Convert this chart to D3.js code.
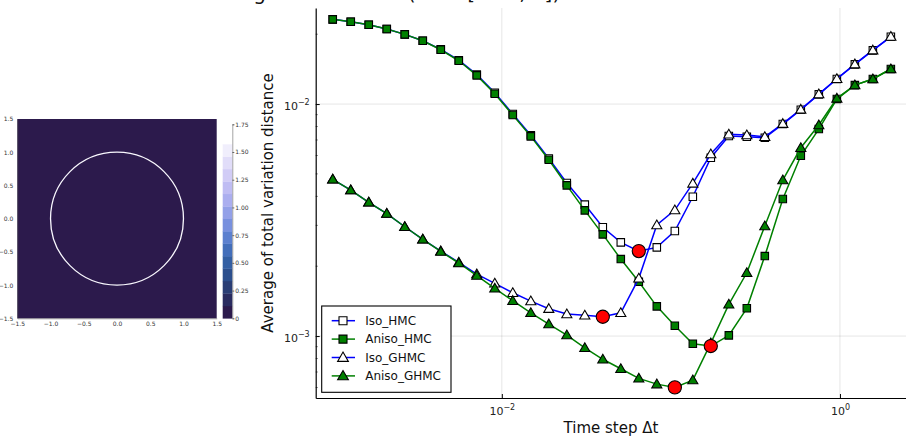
<!DOCTYPE html>
<html>
<head>
<meta charset="utf-8">
<script src="https://cdn.jsdelivr.net/npm/d3@7"></script>
<style>
  body { margin: 0; background: #fff; }
  svg { display: block; font-family: "DejaVu Sans", sans-serif; }
</style>
</head>
<body>
<svg id="chart" width="906" height="437"></svg>
<script>
// time steps (log spaced)
const dt = [0.001, 0.001278, 0.001633, 0.002087, 0.002667, 0.003408, 0.004355, 0.005565,
  0.007111, 0.009086, 0.01161, 0.01484, 0.01896, 0.02423, 0.03096, 0.03956,
  0.05055, 0.06460, 0.08254, 0.1055, 0.1348, 0.1722, 0.2201, 0.2812,
  0.3593, 0.4592, 0.5867, 0.7497, 0.9585, 1.2249, 1.5651, 2.0];

const isoHMC = [0.02318, 0.02263, 0.02197, 0.02105, 0.01997, 0.01874, 0.01720, 0.01545,
  0.01340, 0.01118, 0.009060, 0.007340, 0.005830, 0.004565, 0.003687, 0.002944,
  0.002535, 0.002324, 0.002411, 0.002835, 0.003986, 0.005868, 0.007279, 0.007228,
  0.007156, 0.008200, 0.009450, 0.01101, 0.01282, 0.01483, 0.01704, 0.01950];

const anisoHMC = [0.02318, 0.02263, 0.02197, 0.02105, 0.01997, 0.01874, 0.01714, 0.01537,
  0.01329, 0.01108, 0.008965, 0.007257, 0.005752, 0.004462, 0.003481, 0.002744,
  0.002147, 0.001714, 0.001343, 0.001108, 0.0009264, 0.0009055, 0.001007, 0.001317,
  0.002212, 0.003896, 0.005986, 0.007803, 0.01051, 0.01207, 0.01282, 0.01416];

const isoGHMC = [0.004736, 0.004258, 0.003770, 0.003373, 0.002959, 0.002611, 0.002324, 0.002078,
  0.001850, 0.001688, 0.001537, 0.001415, 0.001312, 0.001244, 0.001229, 0.001211,
  0.001260, 0.001773, 0.003010, 0.003491, 0.004551, 0.006088, 0.007403, 0.007352,
  0.007228, 0.008230, 0.009480, 0.01104, 0.01285, 0.01486, 0.01707, 0.01953];

const anisoGHMC = [0.004736, 0.004258, 0.003770, 0.003373, 0.002959, 0.002611, 0.002315, 0.002065,
  0.001823, 0.001606, 0.001420, 0.001260, 0.001126, 0.001010, 0.0008904, 0.0007943,
  0.0007228, 0.0006572, 0.0006207, 0.0006008, 0.0006461, 0.0009328, 0.001370, 0.001874,
  0.002979, 0.004704, 0.006480, 0.008120, 0.01058, 0.01207, 0.01282, 0.01416];

const seriesNames = ["Iso_HMC", "Aniso_HMC", "Iso_GHMC", "Aniso_GHMC"];
const xTicks = [0.01, 1];
const yTicks = [0.001, 0.01];

// left panel: target density on a ring of radius 1
const ringRadius = 1;
const gridTicks = [-1.5, -1.0, -0.5, 0.0, 0.5, 1.0, 1.5];
const cbarLevels = [0, 0.112, 0.225, 0.337, 0.449, 0.561, 0.674, 0.786, 0.898,
  1.010, 1.123, 1.235, 1.347, 1.459, 1.572, 1.684];
const cbarTicks = [0, 0.25, 0.5, 0.75, 1.0, 1.25, 1.5, 1.75];

const svg = d3.select("#chart");

// devon-like colour map
const devon = d3.interpolateRgbBasis(["#2c1a4c", "#29366a", "#2a5290", "#3868b2",
  "#6284d6", "#8f9de8", "#b3b2f1", "#d0caf6", "#e8e5fa", "#ffffff"]);

// ---- heatmap ----
const hx = d3.scaleLinear().domain([-1.5, 1.5]).range([17.3, 216.7]);
const hy = d3.scaleLinear().domain([-1.5, 1.5]).range([318.3, 119]);
const left = svg.append("g");

left.append("rect")
  .attr("x", hx(-1.5)).attr("y", hy(1.5))
  .attr("width", hx(1.5) - hx(-1.5)).attr("height", hy(-1.5) - hy(1.5))
  .attr("fill", devon(0));
left.append("circle")
  .attr("cx", hx(0)).attr("cy", hy(0))
  .attr("r", hx(ringRadius) - hx(0))
  .attr("fill", "none").attr("stroke", devon(0.97)).attr("stroke-width", 1.3);

const fmt1 = d => d3.format(".1f")(d).replace("-", "\u2212");
left.append("g").attr("transform", `translate(0,${hy(-1.5)})`)
  .call(d3.axisBottom(hx).tickValues(gridTicks).tickFormat(fmt1).tickSize(0).tickPadding(3))
  .call(g => g.select(".domain").attr("stroke", "#444").attr("stroke-width", 0.5))
  .call(g => g.selectAll("text").attr("font-size", 6).attr("fill", "#333").attr("font-family", "DejaVu Sans"));
left.append("g").attr("transform", `translate(${hx(-1.5)},0)`)
  .call(d3.axisLeft(hy).tickValues(gridTicks).tickFormat(fmt1).tickSize(0).tickPadding(4))
  .call(g => g.select(".domain").attr("stroke", "#444").attr("stroke-width", 0.5))
  .call(g => g.selectAll("text").attr("font-size", 6).attr("fill", "#333").attr("font-family", "DejaVu Sans"));

// colour bar
const cy = d3.scaleLinear().domain([0, 1.75]).range([318.3, 124.3]);
const bands = d3.pairs(cbarLevels);
left.append("g").selectAll("rect")
  .data(bands)
  .join("rect")
  .attr("x", 222.7).attr("width", 9.6)
  .attr("y", d => cy(d[1]))
  .attr("height", d => cy(d[0]) - cy(d[1]) + 0.3)
  .attr("fill", (d, i) => devon(i / (bands.length - 1)));
left.append("g").attr("transform", "translate(232.3,0)")
  .call(d3.axisRight(cy).tickValues(cbarTicks)
    .tickFormat(d => d === 0 ? "0" : d3.format(".2f")(d)).tickSize(2).tickPadding(1))
  .call(g => g.select(".domain").attr("stroke", "#666").attr("stroke-width", 0.6))
  .call(g => g.selectAll(".tick line").attr("stroke", "#666"))
  .call(g => g.selectAll("text").attr("font-size", 6).attr("fill", "#333").attr("font-family", "DejaVu Sans"));

// ---- main plot ----
const x = d3.scaleLog().domain([7.929e-4, 2.458]).range([315.7, 906]);
const y = d3.scaleLog().domain([5.408e-4, 0.025942]).range([398, 8]);

const plot = svg.append("g");

// grid
plot.append("g").selectAll("line")
  .data(xTicks).join("line")
  .attr("x1", d => x(d)).attr("x2", d => x(d))
  .attr("y1", y.range()[1]).attr("y2", y.range()[0])
  .attr("stroke", "#000").attr("stroke-opacity", 0.1).attr("stroke-width", 1);
plot.append("g").selectAll("line")
  .data(yTicks).join("line")
  .attr("y1", d => y(d)).attr("y2", d => y(d))
  .attr("x1", x.range()[0]).attr("x2", x.range()[1])
  .attr("stroke", "#000").attr("stroke-opacity", 0.1).attr("stroke-width", 1);

// minor ticks on the y axis
const yMinor = y.ticks().filter(t => !yTicks.includes(t));
plot.append("g").selectAll("line").data(yMinor).join("line")
  .attr("y1", d => y(d)).attr("y2", d => y(d))
  .attr("x1", 315.7).attr("x2", 317.7).attr("stroke", "#000").attr("stroke-width", 0.6);

function supLabel(sel, d) {
  const e = Math.round(Math.log10(d));
  sel.text("10");
  sel.append("tspan").attr("dy", "-0.55em").attr("font-size", 8)
    .text(e < 0 ? "\u2212" + (-e) : String(e));
}

const xAxis = plot.append("g").attr("transform", "translate(0,398)")
  .call(d3.axisBottom(x).tickValues(xTicks).tickFormat("").tickSizeInner(-4).tickSizeOuter(0))
  .call(g => g.select(".domain").attr("stroke", "#000").attr("stroke-width", 1.2));
xAxis.selectAll(".tick text").each(function (d) { supLabel(d3.select(this), d); })
  .attr("font-size", 11).attr("fill", "#222").attr("font-family", "DejaVu Sans")
  .attr("y", 9).attr("dy", "0.71em");

const yAxis = plot.append("g").attr("transform", "translate(315.7,0)")
  .call(d3.axisLeft(y).tickValues(yTicks).tickFormat("").tickSizeInner(-4).tickSizeOuter(0))
  .call(g => g.select(".domain").attr("stroke", "#000").attr("stroke-width", 1.2));
yAxis.selectAll(".tick text").each(function (d) { supLabel(d3.select(this), d); })
  .attr("font-size", 11).attr("fill", "#222").attr("font-family", "DejaVu Sans")
  .attr("x", -6).attr("dy", "0.45em");

// axis titles
svg.append("text").attr("x", 611).attr("y", 433).attr("text-anchor", "middle")
  .attr("font-size", 15).attr("fill", "#111").text("Time step \u0394t");
svg.append("text").attr("transform", "translate(273,203) rotate(-90)")
  .attr("text-anchor", "middle").attr("font-size", 15).attr("fill", "#111")
  .text("Average of total variation distance");
// figure title (mostly above the picture edge, as in the original)
svg.append("text").attr("x", 196).attr("y", -0.5).attr("font-size", 20).attr("fill", "#111")
  .text("Average TV distance (\u0394t \u2208 [10\u207B\u00B3, 2])");

const series = [
  { name: seriesNames[0], values: isoHMC, color: "#0000ff", fill: "#fff", shape: d3.symbolSquare },
  { name: seriesNames[1], values: anisoHMC, color: "#008000", fill: "#008000", shape: d3.symbolSquare },
  { name: seriesNames[2], values: isoGHMC, color: "#0000ff", fill: "#fff", shape: d3.symbolTriangle },
  { name: seriesNames[3], values: anisoGHMC, color: "#008000", fill: "#008000", shape: d3.symbolTriangle }
];

const line = d3.line().x(d => x(d[0])).y(d => y(d[1]));
const marks = plot.append("g");

series.forEach(s => {
  const pts = dt.map((t, i) => [t, s.values[i]]);
  const g = marks.append("g");
  g.append("path").datum(pts).attr("d", line)
    .attr("fill", "none").attr("stroke", s.color).attr("stroke-width", 1.5);
  const size = s.shape === d3.symbolSquare ? 56 : 44;
  g.selectAll("path.m").data(pts).join("path").attr("class", "m")
    .attr("transform", d => `translate(${x(d[0])},${y(d[1]) + (s.shape === d3.symbolTriangle ? 0.8 : 0)})`)
    .attr("d", d3.symbol(s.shape, size))
    .attr("fill", s.fill).attr("stroke", "#000").attr("stroke-width", 1.1);
});

// optimal step of each series
marks.append("g").selectAll("circle")
  .data(series)
  .join("circle")
  .attr("cx", s => x(dt[d3.minIndex(s.values)]))
  .attr("cy", s => y(d3.min(s.values)))
  .attr("r", 6.6)
  .attr("fill", "#ff0000").attr("stroke", "#000").attr("stroke-width", 1.1);

// legend
const lg = plot.append("g").attr("transform", "translate(321.7,306)");
lg.append("rect").attr("width", 129.3).attr("height", 86.3)
  .attr("fill", "#fff").attr("stroke", "#000").attr("stroke-width", 1.1);
const item = lg.selectAll("g.item").data(series).join("g").attr("class", "item")
  .attr("transform", (d, i) => `translate(0,${14.7 + i * 18.4})`);
item.append("line").attr("x1", 10).attr("x2", 33.3)
  .attr("stroke", d => d.color).attr("stroke-width", 1.5);
item.append("path")
  .attr("transform", d => `translate(21.3,${d.shape === d3.symbolTriangle ? 0.8 : 0})`)
  .attr("d", d => d3.symbol(d.shape, d.shape === d3.symbolSquare ? 64 : 50)())
  .attr("fill", d => d.fill).attr("stroke", "#000").attr("stroke-width", 1.1);
item.append("text").attr("x", 43.5).attr("dy", "0.36em")
  .attr("font-size", 12).attr("fill", "#111").text(d => d.name);
</script>
</body>
</html>
